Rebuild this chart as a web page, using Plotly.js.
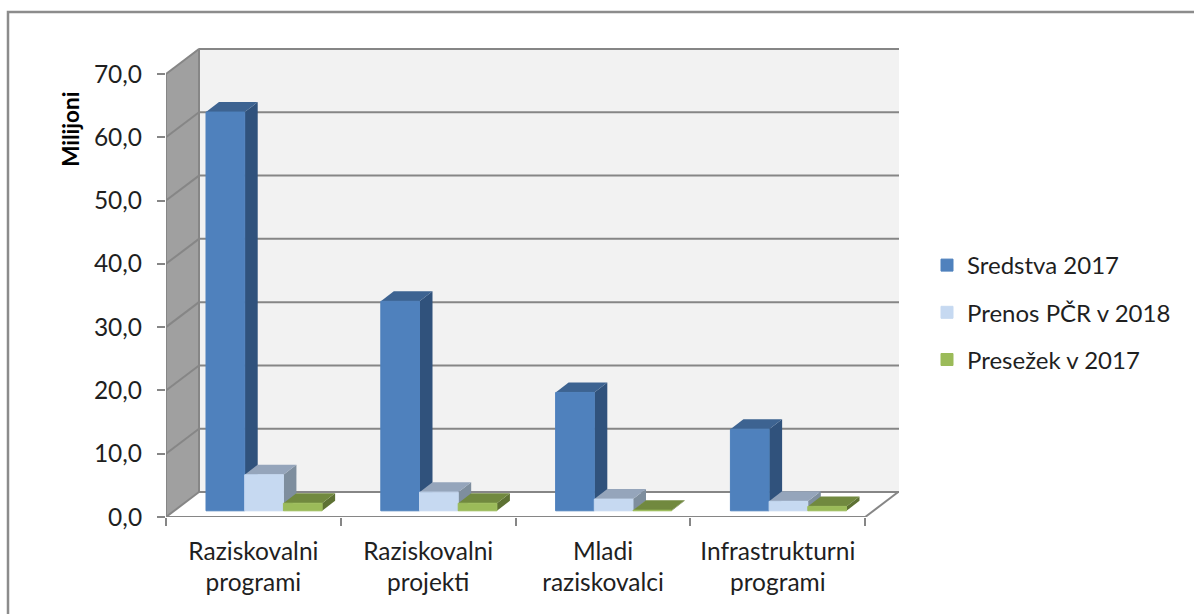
<!DOCTYPE html>
<html>
<head>
<meta charset="utf-8">
<script src="https://cdn.plot.ly/plotly-3.0.1.min.js"></script>
<style>html,body{margin:0;padding:0;background:#fff}#chart{width:1194px;height:614px}</style>
</head>
<body>
<div id="chart"></div>
<script>
const categories = ['Raziskovalni<br>programi', 'Raziskovalni<br>projekti', 'Mladi<br>raziskovalci', 'Infrastrukturni<br>programi'];
const sredstva = [63.0, 33.1, 18.7, 12.9];
const prenos = [5.7, 2.95, 1.85, 1.5];
const presezek = [1.2, 1.2, 0.1, 0.7];
const yTicks = [0, 10, 20, 30, 40, 50, 60, 70];
const yTickText = ['0,0', '10,0', '20,0', '30,0', '40,0', '50,0', '60,0', '70,0'];
const seriesNames = ['Sredstva 2017', 'Prenos PČR v 2018', 'Presežek v 2017'];

const W = 1194, H = 614;
const L = 166, R = 295, T = 47.5, B = 96.5;
const pxX = 174.8, pxY = 6.343;
const xMax = (W - L - R) / pxX, yMax = (H - T - B) / pxY;
const wallDx = 33 / pxX, wallDy = 25 / pxY;
const barDx = 13 / pxX, barDy = 10 / pxY;
const barBase = 6.2 / pxY, barW = 38.7 / pxX, barShift = 0.061;
const gridCol = '#868686', textCol = '#1f1f1f';
const font = 'Lato, Carlito, sans-serif';

const palette = [
  {front: '#4f81bd', top: '#3d6391', side: '#30527c'},
  {front: '#c6d9f1', top: '#95a5bb', side: '#7e8e9e'},
  {front: '#9bbb59', top: '#71893f', side: '#5d7133'}
];
const allSeries = [sredstva, prenos, presezek];
const centers = categories.map((_, i) => i + 0.5 + barShift);

function poly(pts, fill, layer, line) {
  const d = pts.map((p, i) => (i ? 'L' : 'M') + p[0] + ',' + p[1]).join(' ') + ' Z';
  return {type: 'path', path: d, xref: 'x', yref: 'y', layer: layer, fillcolor: fill,
          line: line || {width: 0}};
}
function seg(x0, y0, x1, y1, layer) {
  return {type: 'line', x0, y0, x1, y1, xref: 'x', yref: 'y', layer: layer,
          line: {color: gridCol, width: 2}};
}

const nCat = categories.length;
const shapes = [];
// page frame: top and left edges are visible, the others run off the page
shapes.push({type: 'rect', xref: 'paper', yref: 'paper',
  x0: (8 - L) / (W - L - R), x1: (1210 - L) / (W - L - R),
  y0: (H - 640 - B) / (H - T - B), y1: (H - 11.5 - B) / (H - T - B),
  layer: 'below', fillcolor: 'rgba(0,0,0,0)', line: {color: '#8c8c8c', width: 2.5}});
// walls and floor
shapes.push(poly([[wallDx, wallDy], [xMax, wallDy], [xMax, yMax], [wallDx, yMax]], '#f2f2f2', 'below'));
shapes.push(poly([[0, 0], [wallDx, wallDy], [wallDx, yMax], [0, 70]], '#a0a0a0', 'below'));
shapes.push(poly([[0, 0], [nCat, 0], [nCat + wallDx, wallDy], [wallDx, wallDy]], '#ffffff', 'below'));
// gridlines on back and side walls
yTicks.forEach(v => {
  shapes.push(seg(wallDx, v + wallDy, xMax, v + wallDy, 'below'));
  if (v > 0) shapes.push(seg(0, v, wallDx, v + wallDy, 'below'));
});
// outline of walls and floor
shapes.push(seg(0, 0, 0, 70, 'below'));
shapes.push(seg(wallDx, wallDy, wallDx, 70 + wallDy, 'below'));
shapes.push(seg(0, 0, nCat, 0, 'below'));
shapes.push(seg(0, 0, wallDx, wallDy, 'below'));
shapes.push(seg(nCat, 0, nCat + wallDx, wallDy, 'below'));

// 3D top and side faces of the bars, from the same values
allSeries.forEach((vals, s) => {
  vals.forEach((v, i) => {
    const x0 = centers[i] + (s - 1) * barW - barW / 2, x1 = x0 + barW;
    const y0 = barBase, y1 = barBase + v;
    shapes.push(poly([[x1, y0], [x1 + barDx, y0 + barDy], [x1 + barDx, y1 + barDy], [x1, y1]], palette[s].side, 'between'));
    shapes.push(poly([[x0, y1], [x1, y1], [x1 + barDx, y1 + barDy], [x0 + barDx, y1 + barDy]], palette[s].top, 'between'));
  });
});

const traces = allSeries.map((vals, s) => ({
  type: 'bar', name: seriesNames[s], x: centers, y: vals,
  base: vals.map(() => barBase), width: barW,
  offset: (s - 1) * barW - barW / 2,
  legendgroup: 'g' + s,
  marker: {color: palette[s].front, line: {color: palette[s].front, width: 1}},
  hoverinfo: 'name+y'
}));

const layout = {
  width: W, height: H,
  margin: {l: L, r: R, t: T, b: B, pad: 0},
  paper_bgcolor: '#ffffff', plot_bgcolor: 'rgba(0,0,0,0)',
  barmode: 'overlay', showlegend: true,
  font: {family: font, color: textCol},
  xaxis: {
    type: 'linear', range: [0, xMax], showgrid: false, zeroline: false, showline: false,
    tickmode: 'array', tickvals: categories.map((_, i) => i + 0.5), ticktext: categories,
    ticks: '', tickfont: {family: font, size: 24.5, color: textCol}, tickangle: 0,
    ticklabelstandoff: 17,
    minor: {tickmode: 'array', tickvals: [0, 1, 2, 3, 4], ticks: 'outside', ticklen: 8, tickwidth: 2, tickcolor: gridCol, showgrid: false}
  },
  yaxis: {
    range: [0, yMax], showgrid: false, zeroline: false, showline: false,
    tickmode: 'array', tickvals: yTicks, ticktext: yTickText,
    ticks: 'outside', ticklen: 8, tickwidth: 2, tickcolor: gridCol,
    ticklabelstandoff: 10,
    tickfont: {family: font, size: 24.5, color: textCol}
  },
  legend: {
    xref: 'container', yref: 'container', x: 927 / W, y: 1 - 243 / H, xanchor: 'left', yanchor: 'top',
    font: {family: font, size: 24, color: textCol}, tracegroupgap: 13,
    bgcolor: 'rgba(0,0,0,0)', itemclick: false, itemdoubleclick: false
  },
  annotations: [{
    text: '<b>Milijoni</b>', xref: 'paper', yref: 'paper', textangle: -90,
    x: (71 - L) / (W - L - R), y: (H - 128.5 - B) / (H - T - B),
    xanchor: 'center', yanchor: 'middle', showarrow: false,
    font: {family: font, size: 22.5, color: '#000000'}
  }],
  shapes: shapes
};

Plotly.newPlot('chart', traces, layout, {displayModeBar: false, staticPlot: true});
</script>
</body>
</html>
